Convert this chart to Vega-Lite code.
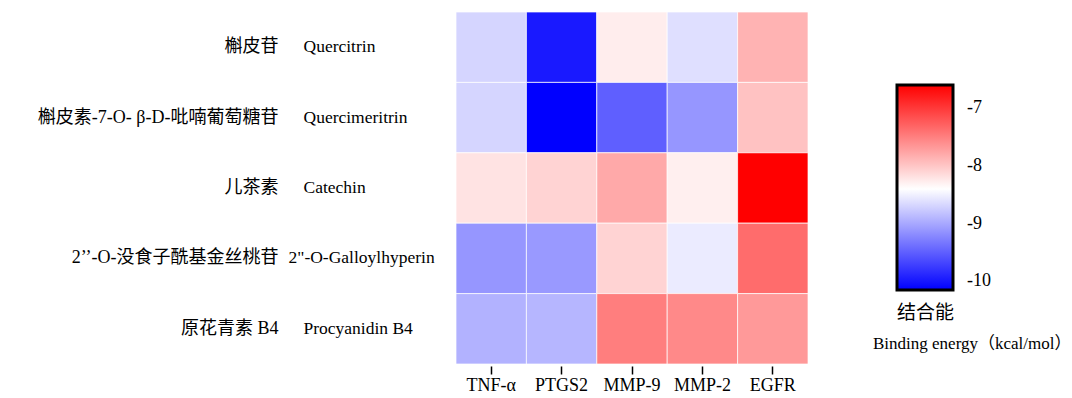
{
  "$schema": "https://vega.github.io/schema/vega-lite/v6.json",
  "autosize": {"type": "none"},
  "padding": {"left": 456, "top": 12, "right": 264, "bottom": 34},
  "width": 352,
  "height": 352,
  "background": "white",
  "config": {
    "view": {"stroke": null},
    "font": "Liberation Serif, Noto Sans CJK SC"
  },
  "title": {
    "text": "Binding energy（kcal/mol）",
    "orient": "bottom",
    "anchor": "start",
    "frame": "group",
    "dx": 417,
    "offset": -58,
    "fontSize": 17,
    "font": "Liberation Serif, Noto Sans CJK SC",
    "fontWeight": "normal",
    "color": "black"
  },
  "data": {
    "values": [
      {"label": "槲皮苷|Quercitrin", "target": "TNF-α", "energy": -8.69},
      {"label": "槲皮苷|Quercitrin", "target": "PTGS2", "energy": -9.98},
      {"label": "槲皮苷|Quercitrin", "target": "MMP-9", "energy": -8.27},
      {"label": "槲皮苷|Quercitrin", "target": "MMP-2", "energy": -8.62},
      {"label": "槲皮苷|Quercitrin", "target": "EGFR", "energy": -7.86},
      {"label": "槲皮素-7-O- β-D-吡喃葡萄糖苷|Quercimeritrin", "target": "TNF-α", "energy": -8.69},
      {"label": "槲皮素-7-O- β-D-吡喃葡萄糖苷|Quercimeritrin", "target": "PTGS2", "energy": -10.15},
      {"label": "槲皮素-7-O- β-D-吡喃葡萄糖苷|Quercimeritrin", "target": "MMP-9", "energy": -9.5},
      {"label": "槲皮素-7-O- β-D-吡喃葡萄糖苷|Quercimeritrin", "target": "MMP-2", "energy": -9.12},
      {"label": "槲皮素-7-O- β-D-吡喃葡萄糖苷|Quercimeritrin", "target": "EGFR", "energy": -7.97},
      {"label": "儿茶素|Catechin", "target": "TNF-α", "energy": -8.2},
      {"label": "儿茶素|Catechin", "target": "PTGS2", "energy": -8.09},
      {"label": "儿茶素|Catechin", "target": "MMP-9", "energy": -7.79},
      {"label": "儿茶素|Catechin", "target": "MMP-2", "energy": -8.29},
      {"label": "儿茶素|Catechin", "target": "EGFR", "energy": -6.6},
      {"label": "2’’-O-没食子酰基金丝桃苷|2\"-O-Galloylhyperin", "target": "TNF-α", "energy": -9.12},
      {"label": "2’’-O-没食子酰基金丝桃苷|2\"-O-Galloylhyperin", "target": "PTGS2", "energy": -9.1},
      {"label": "2’’-O-没食子酰基金丝桃苷|2\"-O-Galloylhyperin", "target": "MMP-9", "energy": -8.09},
      {"label": "2’’-O-没食子酰基金丝桃苷|2\"-O-Galloylhyperin", "target": "MMP-2", "energy": -8.54},
      {"label": "2’’-O-没食子酰基金丝桃苷|2\"-O-Galloylhyperin", "target": "EGFR", "energy": -7.36},
      {"label": "原花青素 B4|Procyanidin B4", "target": "TNF-α", "energy": -8.93},
      {"label": "原花青素 B4|Procyanidin B4", "target": "PTGS2", "energy": -8.9},
      {"label": "原花青素 B4|Procyanidin B4", "target": "MMP-9", "energy": -7.49},
      {"label": "原花青素 B4|Procyanidin B4", "target": "MMP-2", "energy": -7.57},
      {"label": "原花青素 B4|Procyanidin B4", "target": "EGFR", "energy": -7.68}
    ]
  },
  "encoding": {
    "x": {
      "field": "target",
      "type": "nominal",
      "sort": null,
      "axis": {
        "title": null,
        "orient": "bottom",
        "labelAngle": 0,
        "domain": false,
        "offset": 2,
        "tickSize": 8,
        "tickWidth": 1.5,
        "tickColor": "black",
        "labelPadding": 2,
        "labelFontSize": 18,
        "labelColor": "black",
        "labelFont": "Liberation Serif, Noto Sans CJK SC"
      }
    }
  },
  "layer": [
    {
      "mark": {"type": "rect", "stroke": "#ffffff", "strokeWidth": 1, "strokeOpacity": 0.7},
      "encoding": {
        "y": {
          "field": "label",
          "type": "nominal",
          "sort": null,
          "axis": {
            "title": null,
            "orient": "left",
            "labelExpr": "split(datum.value, '|')[1]",
            "labelAlign": "left",
            "labelPadding": {"condition": {"test": "indexof(datum.value, 'Galloyl') >= 0", "value": 168}, "value": 153},
            "ticks": false,
            "domain": false,
            "labelLimit": 0,
            "labelFontSize": 17.5,
            "labelColor": "black",
            "labelFont": "Liberation Serif, Noto Sans CJK SC"
          }
        },
        "color": {
          "field": "energy",
          "type": "quantitative",
          "scale": {"type": "linear", "domain": [-10.15, -8.4, -6.6], "range": ["#0000ff", "#ffffff", "#ff0000"], "interpolate": "rgb"},
          "legend": {
            "orient": "none",
            "legendX": 441,
            "legendY": 73,
            "direction": "vertical",
            "gradientLength": 205,
            "gradientThickness": 56,
            "gradientStrokeColor": "black",
            "gradientStrokeWidth": 3,
            "values": [-10, -9, -8, -7],
            "labelExpr": "toString(datum.value)",
            "labelFontSize": 18,
            "labelColor": "black",
            "labelOffset": 14,
            "labelFont": "Liberation Serif, Noto Sans CJK SC",
            "title": "结合能",
            "titleOrient": "bottom",
            "titleAnchor": "start",
            "titleAlign": "left",
            "titleFontSize": 19,
            "titleFontWeight": "normal",
            "titleColor": "black",
            "titlePadding": 12,
            "titleFont": "Liberation Serif, Noto Sans CJK SC"
          }
        }
      }
    },
    {
      "mark": {"type": "rect", "opacity": 0},
      "encoding": {
        "y": {
          "field": "label",
          "type": "nominal",
          "sort": null,
          "axis": {
            "title": null,
            "orient": "left",
            "labelExpr": "split(datum.value, '|')[0]",
            "labelAlign": "right",
            "labelPadding": 178,
            "ticks": false,
            "domain": false,
            "labelLimit": 0,
            "labelFontSize": 18,
            "labelColor": "black",
            "labelFont": "Liberation Serif, Noto Sans CJK SC"
          }
        }
      }
    }
  ],
  "resolve": {"axis": {"y": "independent"}}
}
